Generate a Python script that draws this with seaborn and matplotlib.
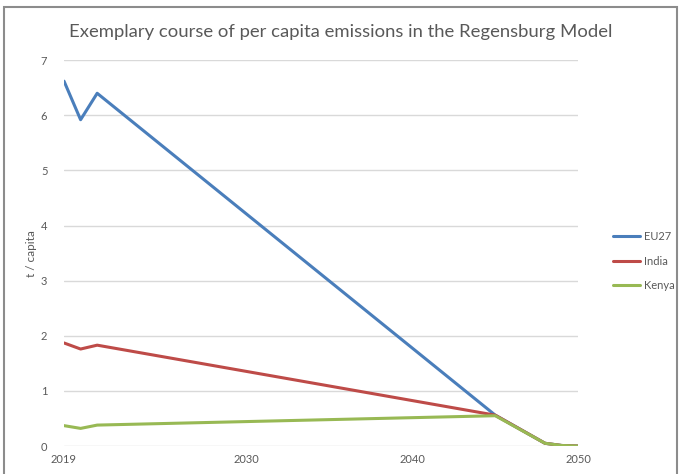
import pandas as pd
import matplotlib.pyplot as plt
import matplotlib.patches as mpatches
import seaborn as sns

# Values (t CO2 per capita)
YEARS = [2019, 2020, 2021, 2045, 2048, 2049, 2050]
EU27 = [6.62, 5.92, 6.40, 0.56, 0.05, 0.01, 0.0]
INDIA = [1.87, 1.76, 1.83, 0.56, 0.05, 0.01, 0.0]
KENYA = [0.37, 0.32, 0.38, 0.55, 0.05, 0.01, 0.0]

REGIONS = ["EU27", "India", "Kenya"]
COLORS = {"EU27": "#4a7ebb", "India": "#be4b48", "Kenya": "#98b954"}

X_TICKS = [2019, 2030, 2040, 2050]
Y_TICKS = [0, 1, 2, 3, 4, 5, 6, 7]

TEXT_GREY = "#595959"

frames = []
for name, vals in zip(REGIONS, [EU27, INDIA, KENYA]):
    frames.append(pd.DataFrame({"year": YEARS, "value": vals, "region": name}))
df = pd.concat(frames, ignore_index=True)

sns.set_style("white")
plt.rcParams["font.family"] = ["Lato", "DejaVu Sans"]

fig = plt.figure(figsize=(6.81, 4.74), dpi=100)
ax = fig.add_axes([0.094, 0.059, 0.755, 0.814])

sns.lineplot(
    data=df,
    x="year",
    y="value",
    hue="region",
    hue_order=REGIONS,
    palette=COLORS,
    linewidth=2.2,
    ax=ax,
)

ax.set_xlim(2019, 2050)
ax.set_ylim(0, 7)
ax.set_xticks(X_TICKS)
ax.set_yticks(Y_TICKS)
ax.tick_params(axis="both", length=0, labelsize=8, colors=TEXT_GREY)
ax.tick_params(axis="x", pad=6)
ax.tick_params(axis="y", pad=12)
ax.grid(axis="y", color="#d9d9d9", linewidth=1)
ax.grid(axis="x", visible=False)
ax.set_axisbelow(True)
for s in ax.spines.values():
    s.set_visible(False)

ax.set_xlabel("")
ax.set_ylabel("t / capita", fontsize=8.5, color=TEXT_GREY, labelpad=3)

fig.text(0.5, 0.933, "Exemplary course of per capita emissions in the Regensburg Model",
         ha="center", va="center", fontsize=13.3, color=TEXT_GREY)

ax.legend(
    title=None,
    frameon=False,
    loc="center left",
    bbox_to_anchor=(0.885, 0.449),
    bbox_transform=fig.transFigure,
    fontsize=8,
    labelcolor=TEXT_GREY,
    handlelength=2.5,
    handletextpad=0.3,
    labelspacing=1.2,
)

# outer frame like the exported chart area
fig.patches.append(mpatches.Rectangle((0.006, -0.01), 0.988, 0.995, transform=fig.transFigure,
                                      fill=False, edgecolor="#8c8c8c", linewidth=1.5))

fig.savefig("out.png", dpi=100)
plt.close(fig)
